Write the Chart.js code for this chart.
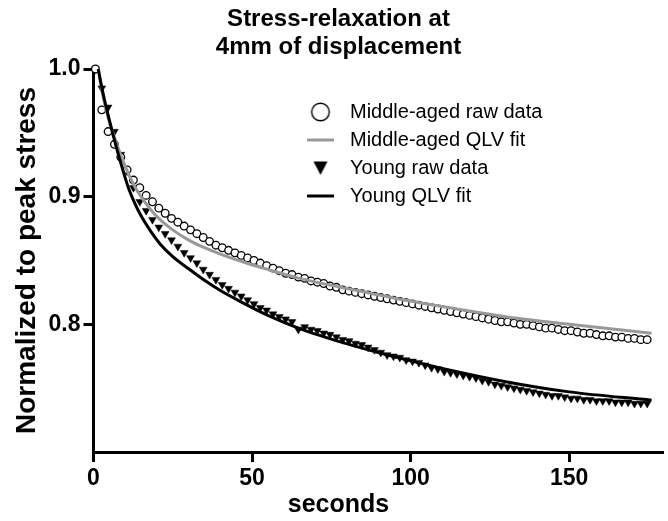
<!DOCTYPE html>
<html>
<head>
<meta charset="utf-8">
<script src="https://cdn.jsdelivr.net/npm/chart.js@4.4.0/dist/chart.umd.min.js"></script>
<style>
html,body{margin:0;padding:0;background:#fff;}
#wrap{width:668px;height:521px;position:relative;}
</style>
</head>
<body>
<div id="wrap"><canvas id="c"></canvas></div>
<script>
// ---------- data ----------
const titleLines = ['Stress-relaxation at', '4mm of displacement'];
const xAxisTitle = 'seconds';
const yAxisTitle = 'Normalized to peak stress';
const seriesNames = ['Middle-aged raw data', 'Middle-aged QLV fit', 'Young raw data', 'Young QLV fit'];
const xTicks = [0, 50, 100, 150];
const yTicks = [0.8, 0.9, 1.0];

// sample times (s) of the raw recordings
const rawTime = [
  0.6, 2.6, 4.6, 6.6, 8.6, 10.6, 12.6, 14.6, 16.6, 18.6,
  20.6, 22.6, 24.6, 26.6, 28.6, 30.6, 32.6, 34.6, 36.6, 38.6,
  40.6, 42.6, 44.6, 46.6, 48.6, 50.6, 52.6, 54.6, 56.6, 58.6,
  60.6, 62.6, 64.6, 66.6, 68.6, 70.6, 72.6, 74.6, 76.6, 78.6,
  80.6, 82.6, 84.6, 86.6, 88.6, 90.6, 92.6, 94.6, 96.6, 98.6,
  100.6, 102.6, 104.6, 106.6, 108.6, 110.6, 112.6, 114.6, 116.6, 118.6,
  120.6, 122.6, 124.6, 126.6, 128.6, 130.6, 132.6, 134.6, 136.6, 138.6,
  140.6, 142.6, 144.6, 146.6, 148.6, 150.6, 152.6, 154.6, 156.6, 158.6,
  160.6, 162.6, 164.6, 166.6, 168.6, 170.6, 172.6, 174.6
];
const middleAgedRaw = [
  1.000, 0.968, 0.951, 0.941, 0.931, 0.921, 0.913, 0.907, 0.901, 0.896,
  0.891, 0.887, 0.883, 0.880, 0.877, 0.874, 0.871, 0.868, 0.865, 0.862,
  0.860, 0.858, 0.856, 0.854, 0.852, 0.850, 0.848, 0.846, 0.844, 0.842,
  0.840, 0.839, 0.837, 0.836, 0.834, 0.833, 0.832, 0.830, 0.829, 0.827,
  0.826, 0.825, 0.824, 0.823, 0.822, 0.821, 0.820, 0.819, 0.818, 0.817,
  0.816, 0.815, 0.814, 0.813, 0.812, 0.811, 0.810, 0.809, 0.808, 0.807,
  0.806, 0.805, 0.804, 0.803, 0.802, 0.802, 0.801, 0.800, 0.800, 0.799,
  0.798, 0.797, 0.797, 0.796, 0.795, 0.795, 0.794, 0.793, 0.793, 0.792,
  0.791, 0.791, 0.790, 0.790, 0.789, 0.789, 0.788, 0.788
];
const youngRaw = [
  1.000, 0.985, 0.970, 0.951, 0.933, 0.920, 0.907, 0.896, 0.889, 0.882,
  0.876, 0.871, 0.866, 0.861, 0.856, 0.852, 0.848, 0.843, 0.839, 0.835,
  0.831, 0.828, 0.825, 0.822, 0.819, 0.816, 0.813, 0.811, 0.808, 0.806,
  0.804, 0.802, 0.796, 0.798, 0.796, 0.795, 0.793, 0.792, 0.790, 0.788,
  0.787, 0.785, 0.784, 0.782, 0.780, 0.778, 0.776, 0.775, 0.774, 0.772,
  0.771, 0.770, 0.768, 0.766, 0.765, 0.763, 0.762, 0.761, 0.760, 0.759,
  0.758, 0.756, 0.755, 0.753, 0.752, 0.751, 0.750, 0.749, 0.748, 0.747,
  0.746, 0.745, 0.744, 0.744, 0.743, 0.742, 0.742, 0.741, 0.741, 0.740,
  0.740, 0.740, 0.739, 0.739, 0.739, 0.738, 0.738, 0.738
];

// QLV fit curves
const fitTime = [1.5, 2.5, 3.5, 4.5, 6, 7.5, 9, 11, 13, 15, 18, 21, 25, 30, 35, 40, 47, 55, 65, 80, 95, 110, 130, 150, 176];
const middleAgedFit = [1.000, 0.985, 0.973, 0.963, 0.951, 0.940, 0.930, 0.918, 0.908, 0.900, 0.890, 0.882, 0.874, 0.866, 0.860, 0.855, 0.849, 0.843, 0.836, 0.828, 0.8205, 0.814, 0.806, 0.800, 0.793];
const youngFit = [1.000, 0.987, 0.9755, 0.965, 0.950, 0.936, 0.923, 0.907, 0.895, 0.885, 0.873, 0.863, 0.853, 0.8435, 0.8345, 0.8265, 0.817, 0.807, 0.7967, 0.7847, 0.7745, 0.7655, 0.7551, 0.7471, 0.7406];

// ---------- styling ----------
const INK = '#000000';
const GREY = '#999999';

function pairs(xs, ys) { return xs.map((x, i) => ({ x: x, y: ys[i] })); }

function makeMarker(kind) {
  const c = document.createElement('canvas');
  const g = c.getContext('2d');
  if (kind === 'circle') {
    c.width = 22; c.height = 22;
    g.lineWidth = 1.4; g.strokeStyle = INK; g.fillStyle = '#fff';
    g.beginPath(); g.arc(11, 11, 8.8, 0, Math.PI * 2); g.fill(); g.stroke();
  } else if (kind === 'triangle') {
    c.width = 16; c.height = 16;
    g.fillStyle = INK;
    g.beginPath(); g.moveTo(1, 1.5); g.lineTo(15, 1.5); g.lineTo(8, 15); g.closePath(); g.fill();
  } else {
    c.width = 27; c.height = 4;
    g.fillStyle = kind === 'grey' ? GREY : INK;
    g.fillRect(0, 0.5, 27, 3);
  }
  return c;
}
const legendMarkers = [makeMarker('circle'), makeMarker('grey'), makeMarker('triangle'), makeMarker('black')];

const legendSpot = { left: 293, top: 94 };
const placeLegend = {
  id: 'placeLegend',
  afterLayout(chart) {
    const l = chart.legend;
    if (!l) return;
    const w = l.width, h = l.height;
    l.left = legendSpot.left; l.top = legendSpot.top;
    l.right = l.left + w; l.bottom = l.top + h;
  }
};

Chart.defaults.font.family = "'Liberation Sans', Arial, sans-serif";
Chart.defaults.color = INK;

const axisLine = { display: true, color: INK, width: 3 };
const tickMarks = { display: true, drawOnChartArea: false, drawTicks: true, tickLength: 10, color: INK, lineWidth: 3 };

new Chart(document.getElementById('c'), {
  type: 'scatter',
  data: {
    datasets: [
      { label: seriesNames[0], data: pairs(rawTime, middleAgedRaw), showLine: false,
        pointStyle: 'circle', pointRadius: 3.8, pointBorderWidth: 1.3,
        borderColor: INK, backgroundColor: '#fff', order: 2, clip: false },
      { label: seriesNames[1], data: pairs(fitTime, middleAgedFit), showLine: true,
        pointRadius: 0, borderColor: GREY, backgroundColor: GREY, borderWidth: 3,
        cubicInterpolationMode: 'monotone', fill: false, order: 1, clip: false },
      { label: seriesNames[2], data: pairs(rawTime, youngRaw), showLine: false,
        pointStyle: 'triangle', pointRotation: 180, pointRadius: 4.5, pointBorderWidth: 0.5,
        borderColor: INK, backgroundColor: INK, order: 2, clip: false },
      { label: seriesNames[3], data: pairs(fitTime, youngFit), showLine: true,
        pointRadius: 0, borderColor: INK, backgroundColor: INK, borderWidth: 3,
        cubicInterpolationMode: 'monotone', fill: false, order: 0, clip: false }
    ]
  },
  options: {
    responsive: true,
    maintainAspectRatio: false,
    animation: false,
    events: [],
    layout: { padding: { left: 9, right: 0, top: 0, bottom: 0 } },
    scales: {
      x: {
        type: 'linear', min: 0, max: 179.5,
        afterBuildTicks: a => { a.ticks = xTicks.map(v => ({ value: v })); },
        afterFit: s => { s.height = 38; },
        border: axisLine, grid: tickMarks,
        ticks: { font: { size: 23, weight: 'bold' }, color: INK, padding: 3, maxRotation: 0, autoSkip: false }
      },
      y: {
        type: 'linear', min: 0.7, max: 1.0,
        afterBuildTicks: a => { a.ticks = yTicks.map(v => ({ value: v })); },
        afterFit: s => { s.width = 84.5; },
        border: axisLine, grid: tickMarks,
        ticks: { font: { size: 23, weight: 'bold' }, color: INK, padding: 3, callback: v => Number(v).toFixed(1) },
        title: { display: true, text: yAxisTitle, color: INK, font: { size: 28, weight: 'bold' }, padding: { top: 1.2, bottom: 0 } }
      }
    },
    plugins: {
      tooltip: { enabled: false },
      title: { display: true, text: titleLines, color: INK, font: { size: 24, weight: 'bold', lineHeight: 1.15 }, padding: { top: 6, bottom: 7.8 } },
      subtitle: { display: true, position: 'bottom', text: xAxisTitle, color: INK, font: { size: 25, weight: 'bold' }, padding: { top: 0, bottom: 1 } },
      legend: {
        position: 'chartArea', align: 'start',
        labels: {
          usePointStyle: true, pointStyleWidth: 39, padding: 8, color: INK,
          font: { size: 20 },
          generateLabels(chart) {
            const items = Chart.defaults.plugins.legend.labels.generateLabels(chart);
            items.sort((a, b) => a.datasetIndex - b.datasetIndex);
            items.forEach(it => { it.pointStyle = legendMarkers[it.datasetIndex]; it.rotation = 0; it.lineWidth = 0; });
            return items;
          }
        }
      }
    }
  },
  plugins: [placeLegend]
});
</script>
</body>
</html>
